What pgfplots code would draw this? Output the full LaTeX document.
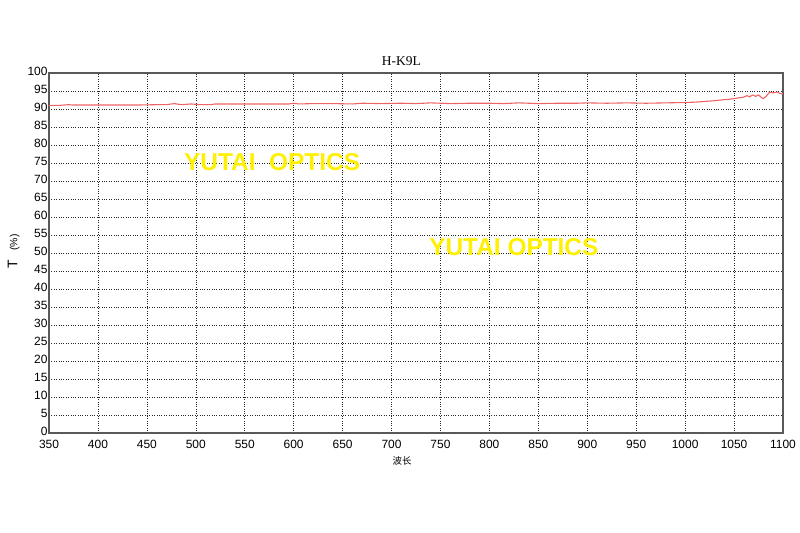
\documentclass[border=0pt]{standalone}
\usepackage{pgfplots}
\pgfplotsset{compat=1.18}
\usepackage{fontspec}
\setmainfont{Liberation Sans}
\newfontfamily\seriffont{Liberation Serif}
\newfontfamily\cjk{Noto Sans CJK SC}
\definecolor{curve}{RGB}{238,100,100}
\definecolor{wm}{RGB}{255,240,0}
\begin{document}
\begin{tikzpicture}
\path[use as bounding box] (-49bp,-100bp) rectangle (751bp,433bp);
\begin{axis}[
  at={(0,0)}, anchor=south west,
  scale only axis,
  width=734bp, height=360bp,
  xmin=350, xmax=1100, ymin=0, ymax=100,
  xtick={350,400,...,1100},
  ytick={0,5,...,100},
  grid=major,
  major grid style={black!85, dotted, line width=0.55pt},
  axis line style={gray!70!black, line width=1.1pt},
  tick style={draw=none},
  tick label style={font=\fontsize{12}{13}\selectfont},
  /pgf/number format/assume math mode=true,
  /pgf/number format/1000 sep={},
  xticklabel style={yshift=-4bp},
  yticklabel style={xshift=2bp, yshift=2bp},
  title={\seriffont H-K9L},
  title style={at={(0.48,1)}, font=\fontsize{13.5}{15}\selectfont, yshift=-2bp},
  xlabel={\cjk 波长},
  xlabel style={font=\fontsize{9.5}{10}\selectfont, yshift=-1bp, xshift=-14bp},
  ylabel={T\hspace{9bp}{\fontsize{10.5}{11}\selectfont(\%)}},
  ylabel style={font=\fontsize{14}{15}\selectfont, anchor=center, at={(axis description cs:-0.048,0.505)}},
]
\addplot[curve, line width=1.1pt] coordinates {
(350,91.0) (360,91.0) (370,91.2) (375,91.1) (390,91.1) (400,91.1) (420,91.1) (440,91.1)
(460,91.2) (470,91.2) (478,91.5) (485,91.2) (495,91.4) (505,91.2) (515,91.2) (520,91.4)
(540,91.4) (560,91.4) (580,91.4) (595,91.4) (600,91.6) (605,91.4) (620,91.5) (640,91.5)
(660,91.4) (670,91.6) (690,91.5) (710,91.6) (725,91.5) (740,91.7) (760,91.5) (780,91.6)
(800,91.6) (815,91.5) (830,91.7) (850,91.5) (870,91.6) (890,91.6) (900,91.7) (920,91.6)
(940,91.7) (960,91.6) (980,91.7) (1000,91.8) (1010,91.9) (1020,92.1) (1030,92.3)
(1040,92.6) (1045,92.7) (1050,92.9) (1055,93.1) (1060,93.3) (1063,93.7) (1066,93.4)
(1069,93.9) (1072,93.5) (1075,93.9) (1078,93.2) (1080,92.9) (1083,93.6) (1086,94.6)
(1090,94.5) (1094,94.7) (1097,94.3) (1100,94.2)
};
\node[wm, font=\bfseries\fontsize{24.5}{26}\selectfont, inner sep=0pt] at (axis cs:578,75.3) {YUTAI\ \ OPTICS};
\node[wm, font=\bfseries\fontsize{24.5}{26}\selectfont, inner sep=0pt] at (axis cs:825,51.7) {YUTAI OPTICS};
\end{axis}
\end{tikzpicture}
\end{document}
